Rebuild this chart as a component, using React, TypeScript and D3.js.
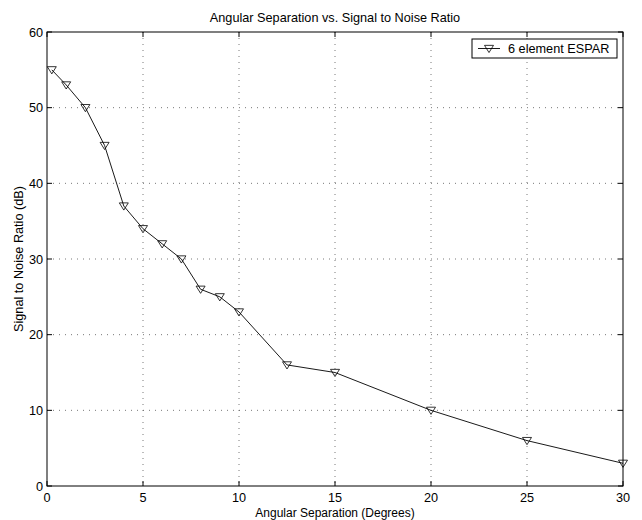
import React from "react";
import * as d3 from "d3";

const angles = [0.25, 1, 2, 3, 4, 5, 6, 7, 8, 9, 10, 12.5, 15, 20, 25, 30];
const snr = [55, 53, 50, 45, 37, 34, 32, 30, 26, 25, 23, 16, 15, 10, 6, 3];
const xTicks = [0, 5, 10, 15, 20, 25, 30];
const yTicks = [0, 10, 20, 30, 40, 50, 60];
const seriesName = "6 element ESPAR";
const title = "Angular Separation vs. Signal to Noise Ratio";
const xLabel = "Angular Separation (Degrees)";
const yLabel = "Signal to Noise Ratio (dB)";

const W = 642, H = 520;
const L = 47, R = 623, T = 32, B = 486;
const font = "'Liberation Sans', Arial, Helvetica, sans-serif";
const fs = 12.7;

function tri(cx: number, cy: number, s = 4.5) {
  return `M${cx - s},${cy - s * 0.7} L${cx + s},${cy - s * 0.7} L${cx},${cy + s * 0.9} Z`;
}

export default function App() {
  const x = d3.scaleLinear().domain([0, 30]).range([L, R]);
  const y = d3.scaleLinear().domain([0, 60]).range([B, T]);
  const pts = angles.map((a, i) => [x(a), y(snr[i])] as [number, number]);
  const line = d3.line()(pts) || "";
  const tl = 5;
  return (
    <svg width={W} height={H} style={{ position: "absolute", left: 0, top: 0, background: "#fff" }}>
      <rect x={0} y={0} width={W} height={H} fill="#fff" />
      {xTicks.slice(1, -1).map((t) => (
        <line key={"gx" + t} x1={x(t)} x2={x(t)} y1={T} y2={B} stroke="#555" strokeWidth={0.8} strokeDasharray="1,5" />
      ))}
      {yTicks.slice(1, -1).map((t) => (
        <line key={"gy" + t} x1={L} x2={R} y1={y(t)} y2={y(t)} stroke="#555" strokeWidth={0.8} strokeDasharray="1,5" />
      ))}
      <rect x={L} y={T} width={R - L} height={B - T} fill="none" stroke="#000" strokeWidth={1} />
      {xTicks.map((t) => (
        <g key={"tx" + t}>
          <line x1={x(t)} x2={x(t)} y1={B} y2={B - tl} stroke="#000" />
          <line x1={x(t)} x2={x(t)} y1={T} y2={T + tl} stroke="#000" />
          <text x={x(t)} y={B + 15.5} fontSize={fs} fontFamily={font} textAnchor="middle">{t}</text>
        </g>
      ))}
      {yTicks.map((t) => (
        <g key={"ty" + t}>
          <line x1={L} x2={L + tl} y1={y(t)} y2={y(t)} stroke="#000" />
          <line x1={R} x2={R - tl} y1={y(t)} y2={y(t)} stroke="#000" />
          <text x={L - 4} y={y(t) + 4.5} fontSize={fs} fontFamily={font} textAnchor="end">{t}</text>
        </g>
      ))}
      <path d={line} fill="none" stroke="#000" strokeWidth={0.9} />
      {pts.map(([px, py], i) => (
        <path key={"m" + i} d={tri(px, py)} fill="none" stroke="#000" strokeWidth={0.8} />
      ))}
      <text x={(L + R) / 2} y={22} fontSize={fs} fontFamily={font} textAnchor="middle">{title}</text>
      <text x={(L + R) / 2} y={516.5} fontSize={12} fontFamily={font} textAnchor="middle">{xLabel}</text>
      <text transform={`translate(23,${(T + B) / 2}) rotate(-90)`} fontSize={fs} fontFamily={font} textAnchor="middle">{yLabel}</text>
      <g>
        <rect x={472} y={39} width={145} height={19} fill="#fff" stroke="#000" strokeWidth={1} />
        <line x1={478} x2={500} y1={48.5} y2={48.5} stroke="#000" strokeWidth={0.9} />
        <path d={tri(489, 48.5)} fill="none" stroke="#000" strokeWidth={0.8} />
        <text x={508} y={53} fontSize={fs} fontFamily={font}>{seriesName}</text>
      </g>
    </svg>
  );
}
